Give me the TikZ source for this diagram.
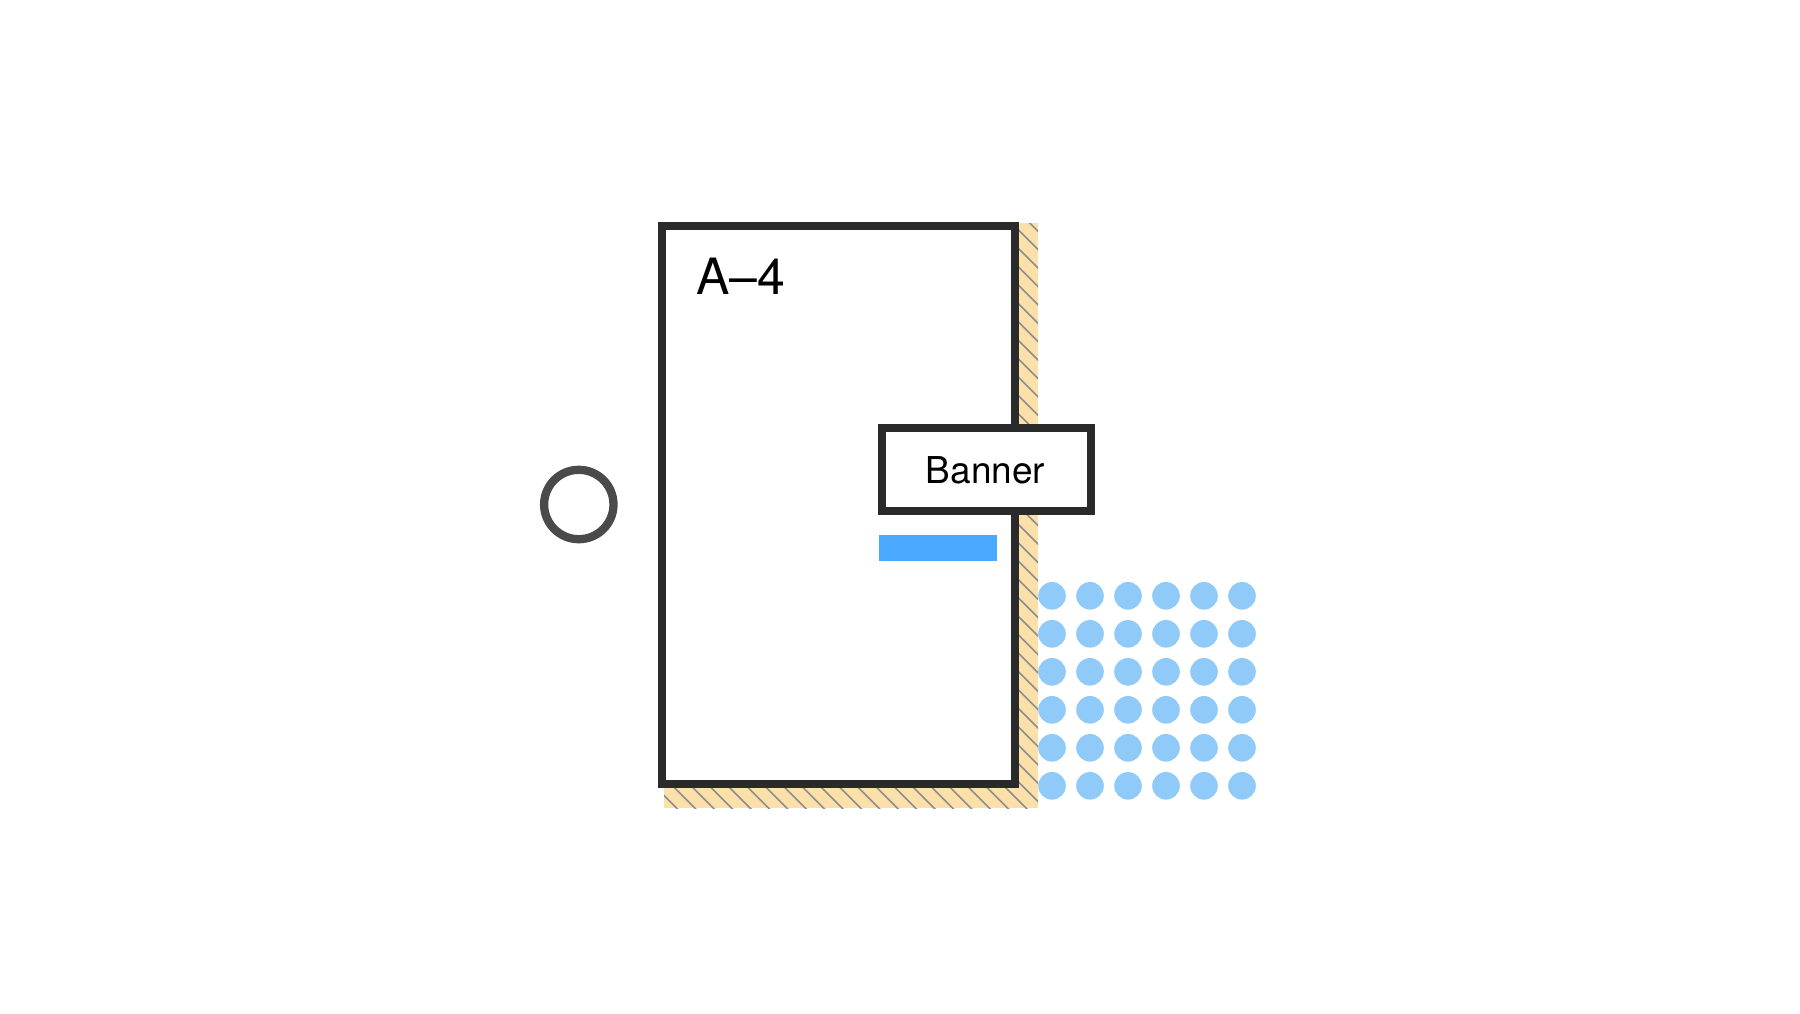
\documentclass[tikz,border=0pt]{standalone}
\usepackage{fontspec}
\setmainfont{TeX Gyre Heros}
\definecolor{boxline}{HTML}{2A2A2A}
\definecolor{hatchfill}{HTML}{FCE0A9}
\definecolor{hatchline}{HTML}{8E8E8E}
\definecolor{barblue}{HTML}{4AA8FF}
\definecolor{dotblue}{HTML}{90CAF9}
\definecolor{ringgray}{HTML}{4A4A4A}
\tikzset{
  boxstyle/.style={draw=boxline, line width=8pt, fill=white, inner sep=0pt},
  dotstyle/.style={circle, fill=dotblue, minimum size=27.6pt, inner sep=0pt},
}
\begin{document}
\begin{tikzpicture}[x=1pt,y=-1pt]
\useasboundingbox[fill=white] (0,0) rectangle (1800,1013);
% hatched shadow
\fill[hatchfill] (664,223) rectangle (1038,808);
\begin{scope}
  \clip (664,223) rectangle (1038,808);
  \foreach \c in {-150,-131.6,...,830} {
    \draw[hatchline, line width=1.6pt] (\c+200,200) -- (\c+820,820);
  }
\end{scope}
% main page
\node[boxstyle, minimum width=352.4pt, minimum height=558pt] (a4) at (838.5,504.7) {};
\node[anchor=base west, inner sep=0pt, font=\fontsize{50}{60}\selectfont] (a4label) at (696,294.3) {A–4};
% banner
\node[boxstyle, minimum width=208.2pt, minimum height=82.5pt] (banner) at (986.4,469.5) {};
\node[anchor=base, inner sep=0pt, font=\fontsize{37}{44}\selectfont] (bannertext) at (985.5,483.3) {Banner};
% blue bar
\node[fill=barblue, inner sep=0pt, minimum width=118.7pt, minimum height=25.7pt, anchor=north west] (bar) at (878.3,535) {};
% dots
\foreach \i in {0,...,5} {
  \foreach \j in {0,...,5} {
    \node[dotstyle] (dot\i\j) at (1052+38*\i,595.8+38*\j) {};
  }
}
% ring
\node[circle, draw=ringgray, line width=8.3pt, minimum size=69.4pt, inner sep=0pt] (ring) at (578.8,504.5) {};
\end{tikzpicture}
\end{document}
